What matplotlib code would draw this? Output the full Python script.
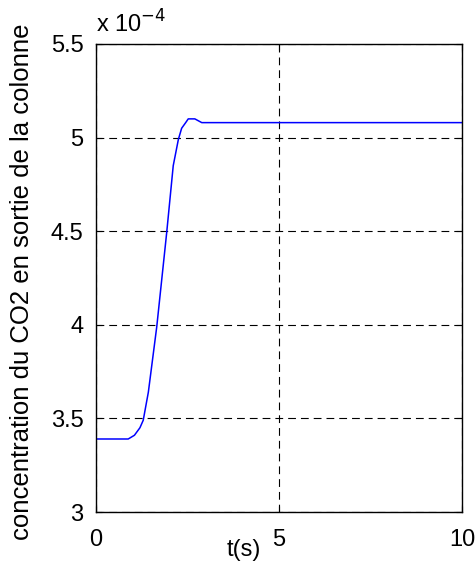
import numpy as np
import matplotlib
matplotlib.use('Agg')
import matplotlib.pyplot as plt

plt.rcParams['font.family'] = ['Liberation Sans', 'DejaVu Sans']

# outlet CO2 concentration response (units of 1e-4)
t = [0.0, 0.88, 1.05, 1.20, 1.29, 1.43, 1.66, 1.93, 2.11, 2.25, 2.34, 2.45, 2.52, 2.70, 2.89, 10.0]
conc = [3.39, 3.39, 3.41, 3.45, 3.49, 3.64, 3.99, 4.49, 4.85, 4.99, 5.05, 5.08, 5.10, 5.10, 5.08, 5.08]

xticks = [0, 5, 10]
yticks = [3, 3.5, 4, 4.5, 5, 5.5]
ytick_labels = ['3', '3.5', '4', '4.5', '5', '5.5']

fig = plt.figure(figsize=(4.76, 5.67), dpi=100)
ax = fig.add_axes([0.2017, 0.097, 0.7689, 0.8254])

ax.plot(t, conc, color='#0000ff', linewidth=1.1)
ax.set_xlim(0, 10)
ax.set_ylim(3, 5.5)
ax.set_xticks(xticks)
ax.set_yticks(yticks)
ax.set_xticklabels([str(v) for v in xticks])
ax.set_yticklabels(ytick_labels)
ax.grid(True, color='black', linestyle=(0, (7, 4.5)), linewidth=0.8)
ax.tick_params(direction='in', length=4, width=0.8, labelsize=17,
               top=True, right=True)
ax.tick_params(axis='y', pad=9)
ax.tick_params(axis='x', pad=12)
for s in ax.spines.values():
    s.set_linewidth(1.0)

ax.set_xlabel('t(s)', fontsize=17)
ax.xaxis.set_label_coords(0.404, -0.058)
ax.set_ylabel('concentration du CO2 en sortie de la colonne', fontsize=18.5)
ax.yaxis.set_label_coords(-0.17, 0.491)
ax.text(0.0, 1.0235, r'x 10$^{-4}$', transform=ax.transAxes, fontsize=17,
        ha='left', va='baseline')

fig.savefig('out.png', dpi=100)
